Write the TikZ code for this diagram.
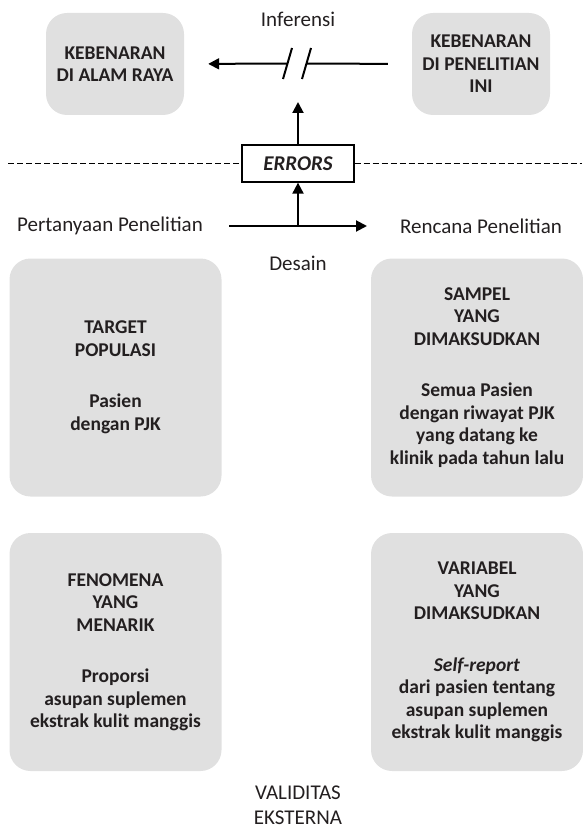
\documentclass[tikz,border=0pt]{standalone}
\usepackage{fontspec}
\setmainfont{Carlito}
\usetikzlibrary{arrows.meta}
\definecolor{boxgray}{RGB}{224,224,224}
\definecolor{inkgray}{RGB}{35,31,32}

\begin{document}
\begin{tikzpicture}[x=1pt,y=-1pt,
				font=\fontsize{21}{23}\selectfont, text=inkgray,
				main node/.style = {rounded corners=21pt, fill=boxgray, align=center, inner sep=0pt,
					font=\fontsize{19.5}{22.5}\selectfont\bfseries},
				small box/.style = {main node, minimum width=138pt, minimum height=102pt},
				big box/.style = {main node, minimum width=212pt, minimum height=238pt},
				arr/.style = {line width=2pt, -{Triangle[length=11pt,width=11pt]}},
				thick line/.style = {line width=2pt}]
				
				\useasboundingbox (0,0) rectangle (582,829);
				
				\node[small box] (1) at (115,64) {KEBENARAN\\DI ALAM RAYA};
				\node[small box] (2) at (481,64) {KEBENARAN\\DI PENELITIAN\\INI};
				\node at (298,19) (0) {Inferensi};
				\node[draw, line width=1.3pt, fill=white, minimum width=112pt, minimum height=37pt,
					font=\fontsize{21}{23}\selectfont\bfseries\itshape] (3) at (298,163.5) {ERRORS};
				\node at (110,226) (4) {Pertanyaan Penelitian};
				\node at (481,226) (5) {Rencana Penelitian};
				\node at (298,263) (6) {Desain};
				
				\node[big box] (7) at (115.5,377.5) {TARGET\\POPULASI\\[29pt]Pasien\\dengan PJK};
				\node[big box] (8) at (477,377.5) {SAMPEL\\YANG\\DIMAKSUDKAN\\[29pt]Semua Pasien\\dengan riwayat PJK\\yang datang ke\\klinik pada tahun lalu};
				\node[big box] (9) at (115.5,652) {FENOMENA\\YANG\\MENARIK\\[29pt]Proporsi\\asupan suplemen\\ekstrak kulit manggis};
				\node[big box] (10) at (477,652) {VARIABEL\\YANG\\DIMAKSUDKAN\\[29pt]\textit{Self-report}\\dari pasien tentang\\asupan suplemen\\ekstrak kulit manggis};
				\node[align=center] at (298,805.5) (11) {VALIDITAS\\[2pt]EKSTERNA};
				
				\coordinate (b1) at (287.5,63.5);
				\coordinate (b2) at (306.5,63.5);
				\coordinate (inf) at (298,102);
				\coordinate (h1) at (229,226);
				\coordinate (h2) at (367,226);
				\coordinate (j) at (298,226);
				\coordinate (dl) at (8,163.5);
				\coordinate (dr) at (582,163.5);
				
				% inferensi, broken
				\draw[thick line, shorten <=24pt] (2.west) -- (b2);
				\draw[arr, shorten >=24pt] (b1) -- (1.east);
				\draw[thick line] ([shift={(-4.5,15.5)}]b1) -- ([shift={(4.5,-15.5)}]b1)
				([shift={(-4.5,15.5)}]b2) -- ([shift={(4.5,-15.5)}]b2);
				
				% errors
				\draw[line width=1.6pt, dash pattern=on 6pt off 3pt] (dl) -- (3.west)
				(3.east) -- (dr);
				\draw[arr] (3.north) -- (inf);
				\draw[arr] (h1) -- (h2);
				\draw[arr] (j) -- (3.south);
\end{tikzpicture}
\end{document}
